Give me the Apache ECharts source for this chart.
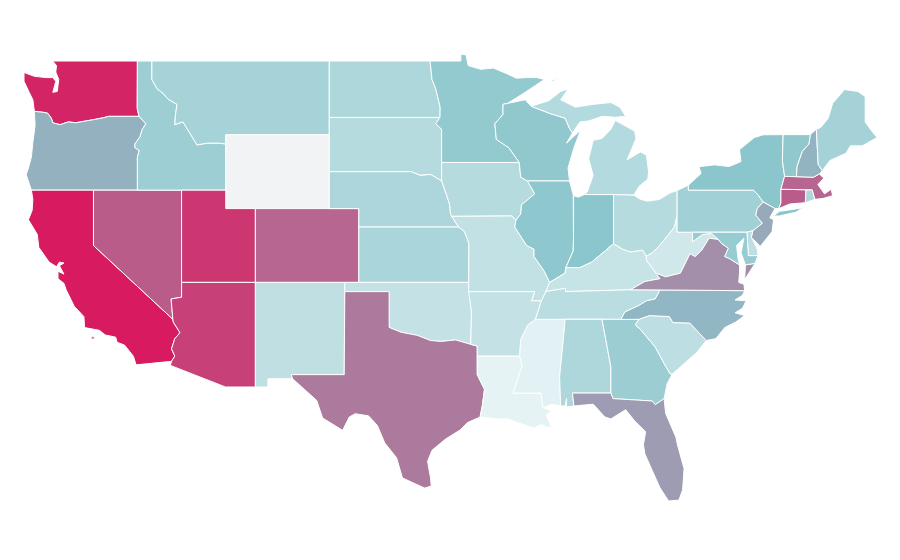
<!DOCTYPE html>
<html lang="en">

<head>
    <meta charset="utf-8" />
    <title>US states</title>
    <style>
        html, body { margin: 0; padding: 0; background: #fff; }
        #mapContainer { width: 900px; height: 560px; }
    </style>
    <script src="https://cdn.jsdelivr.net/npm/echarts@6/dist/echarts.min.js"></script>
</head>

<body>
    <div id="mapContainer"></div>
    <script>
        // values, Wyoming has no value
        var stateNames = ['WA','OR','CA','NV','ID','MT','WY','UT','AZ','CO','NM','ND','SD','NE','KS','OK','TX','MN','IA','MO','AR','LA','WI','IL','MS','MI','IN','KY','TN','AL','OH','WV','GA','FL','SC','NC','VA','PA','NY','NJ','DE','MD','CT','RI','MA','VT','NH','ME'];
        var stateValues = [97,56,100,81,40,35,null,92,89,78,22,31,27,32,33,19,72,45,27,20,19,1,47,48,3,28,49,18,25,31,27,13,41,62,23,54,66,38,49,58,23,43,81,31,78,47,55,36];
        var colorStops = ['#e8f4f5', '#8ac5cc', '#d81b60'];

        // shared borders, lon/lat
        var columbia = [[-124.0,46.27],[-123.4,46.22],[-123.1,46.17],[-122.85,45.9],[-122.75,45.65],[-122.25,45.55],[-121.7,45.7],[-121.2,45.65],[-120.6,45.74],[-120.0,45.82],[-119.3,45.93],[-118.98,46.0],[-116.92,46.0]];
        var snake = [[-116.92,46.0],[-116.46,45.6],[-116.7,45.3],[-116.85,44.9],[-117.2,44.5],[-117.2,44.3],[-116.9,44.15],[-117.03,43.8],[-117.03,42.0]];
        var bitterroot = [[-116.05,49.0],[-116.05,48.0],[-115.7,47.5],[-115.3,47.25],[-114.95,46.93],[-114.35,46.65],[-114.45,46.1],[-114.5,45.55],[-113.95,45.7],[-113.45,45.05],[-113.0,44.45],[-112.3,44.55],[-111.5,44.55],[-111.05,44.5]];
        var colorado = [[-114.72,32.72],[-114.5,33.0],[-114.72,33.4],[-114.5,33.95],[-114.15,34.27],[-114.6,34.85],[-114.63,35.0]];
        var redRiver = [[-100.0,34.56],[-99.2,34.3],[-98.1,34.13],[-97.2,33.85],[-96.5,33.8],[-95.5,33.88],[-94.48,33.64]];
        var sabine = [[-94.04,33.0],[-94.04,32.0],[-93.55,31.2],[-93.7,30.3],[-93.85,29.7]];
        var missouriN = [[-98.5,43.0],[-97.9,42.8],[-97.2,42.85],[-96.45,42.5]];
        var missouriE = [[-96.45,42.5],[-96.1,41.7],[-95.9,41.2],[-95.85,40.7],[-95.77,40.58]];
        var missouriS = [[-95.77,40.58],[-95.3,40.0],[-94.9,39.75],[-94.6,39.1]];
        var redN = [[-96.56,45.94],[-96.55,46.5],[-96.85,47.5],[-97.1,48.0],[-97.23,49.0]];
        var upperMiss = [[-92.75,44.75],[-91.9,44.3],[-91.2,43.5]];
        var stCroix = [[-92.3,46.65],[-92.3,46.1],[-92.85,45.6],[-92.75,44.75]];
        var missIA = [[-91.2,43.5],[-91.1,42.7],[-90.65,42.5]];
        var missIL = [[-90.65,42.5],[-90.15,41.8],[-91.05,41.2],[-91.1,40.7],[-91.42,40.38]];
        var missMO = [[-91.42,40.38],[-91.5,40.0],[-90.7,39.0],[-90.2,38.8],[-90.2,38.4],[-89.5,37.6],[-89.15,37.0]];
        var missTN = [[-89.4,36.5],[-89.7,36.0]];
        var missAR = [[-89.7,36.0],[-90.1,35.0],[-90.6,34.7],[-91.1,33.9],[-91.17,33.0]];
        var missLA = [[-91.17,33.0],[-91.0,32.5],[-91.6,31.0]];
        var ohioKY = [[-89.15,37.0],[-88.1,37.5],[-88.05,37.8]];
        var ohioIN = [[-88.05,37.8],[-87.1,37.8],[-86.3,38.1],[-85.4,38.7],[-84.82,39.1]];
        var ohioOH = [[-84.82,39.1],[-84.2,38.8],[-83.7,38.65],[-82.85,38.75],[-82.6,38.42]];
        var ohioWV = [[-82.6,38.42],[-82.2,38.6],[-81.7,39.0],[-80.7,40.0],[-80.52,40.63]];
        var wabash = [[-87.52,41.7],[-87.53,39.35],[-87.55,38.7],[-88.05,37.8]];
        var kyWV = [[-82.6,38.42],[-82.6,38.2],[-81.95,37.5]];
        var vaWV = [[-81.95,37.5],[-81.3,37.3],[-80.3,37.5],[-79.65,38.55],[-79.3,38.4],[-78.85,38.75],[-78.35,39.4],[-77.72,39.32]];
        var kyVA = [[-81.95,37.5],[-81.68,37.2],[-82.7,37.05],[-83.68,36.6]];
        var tnNC = [[-81.68,36.59],[-82.0,36.1],[-82.6,36.0],[-83.1,35.75],[-84.05,35.4],[-84.32,34.99]];
        var ncSC = [[-83.1,35.0],[-82.4,35.2],[-81.05,35.15],[-80.8,34.82],[-79.67,34.8],[-78.55,33.85]];
        var savannah = [[-83.1,35.0],[-83.35,34.7],[-83.0,34.45],[-82.0,33.5],[-81.4,32.6],[-81.0,32.05],[-80.85,32.03]];
        var gaCoast = [[-80.85,32.03],[-81.2,31.5],[-81.4,30.7]];
        var stMarys = [[-81.4,30.7],[-82.0,30.37],[-82.2,30.57],[-84.86,30.7],[-85.0,31.0]];
        var chattahoochee = [[-85.0,31.0],[-85.0,32.4],[-85.6,35.0]];
        var msAL = [[-88.2,35.0],[-88.1,34.9],[-88.47,31.9],[-88.4,30.3]];
        var delaware = [[-74.7,41.36],[-75.1,41.0],[-75.2,40.65],[-74.75,40.2],[-75.4,39.8]];
        var nyPA = [[-79.76,42.27],[-79.76,42.0],[-75.35,42.0],[-75.05,41.75],[-74.7,41.36]];
        var potomac = [[-76.3,37.95],[-77.0,38.3],[-77.3,38.4],[-77.05,38.85],[-77.5,39.1],[-77.72,39.32]];
        var mdWV = [[-77.72,39.32],[-78.2,39.65],[-78.8,39.6],[-79.48,39.2],[-79.48,39.72]];
        var vtNH = [[-71.5,45.01],[-71.6,44.5],[-72.05,44.1],[-72.4,43.3],[-72.45,42.73]];
        var nyVT = [[-73.25,42.75],[-73.4,43.6],[-73.35,45.01]];
        var nhMA = [[-72.45,42.73],[-71.3,42.7],[-70.9,42.88]];
        var nhME = [[-71.1,45.3],[-70.98,43.4],[-70.7,43.05]];
        var wiUP = [[-90.4,46.55],[-89.1,46.15],[-88.1,45.9],[-87.8,45.35],[-87.6,45.1]];

        function rev(a) { return a.slice().reverse(); }
        function ring() { return [].concat.apply([], arguments); }

        var stateShapes = {
            WA: [ring([[-117.03,49.0],[-117.04,46.42],[-116.92,46.0]], rev(columbia), [[-124.1,46.9],[-124.35,47.3],[-124.7,47.9],[-124.7,48.38],[-124.0,48.17],[-123.2,48.1],[-122.75,48.1],[-122.55,47.9],[-122.75,47.3],[-122.45,47.35],[-122.35,48.0],[-122.55,48.4],[-122.5,48.75],[-122.76,49.0]])],
            OR: [ring(columbia, snake.slice(1), [[-124.2,42.0],[-124.55,42.84],[-124.4,43.2],[-124.2,43.8],[-124.1,44.6],[-123.95,45.5]])],
            CA: [
                ring([[-120.0,42.0],[-124.2,42.0],[-124.1,41.5],[-124.15,40.9],[-124.4,40.4],[-123.8,39.6],[-123.7,38.9],[-123.0,38.1],[-122.5,37.85],[-122.3,38.1],[-122.0,38.05],[-122.3,37.9],[-122.0,37.45],[-122.4,37.6],[-122.4,37.2],[-122.0,36.95],[-121.85,36.6],[-121.3,35.7],[-120.65,35.15],[-120.6,34.55],[-119.6,34.4],[-119.2,34.15],[-118.5,34.03],[-118.4,33.75],[-117.9,33.6],[-117.3,33.0],[-117.12,32.53]], colorado, [[-120.0,39.0]]),
                [[-120.15,34.05],[-119.95,34.05],[-119.95,33.93],[-120.15,33.93]],
                [[-118.55,33.4],[-118.45,33.4],[-118.45,33.33]]
            ],
            NV: [ring([[-120.0,42.0],[-114.04,42.0],[-114.04,36.2],[-114.75,36.1],[-114.63,35.0],[-120.0,39.0]])],
            ID: [ring([[-117.03,49.0]], bitterroot, [[-111.05,42.0]], rev(snake), [[-117.04,46.42]])],
            MT: [ring(bitterroot, [[-111.05,45.0],[-104.05,45.0],[-104.05,49.0]])],
            WY: [[[-111.05,45.0],[-104.05,45.0],[-104.05,41.0],[-111.05,41.0]]],
            UT: [[[-114.04,42.0],[-111.05,42.0],[-111.05,41.0],[-109.05,41.0],[-109.05,37.0],[-114.04,37.0]]],
            AZ: [ring([[-114.04,37.0],[-109.05,37.0],[-109.05,31.33],[-111.07,31.33],[-114.8,32.5]], colorado, [[-114.75,36.1],[-114.04,36.2]])],
            CO: [[[-109.05,41.0],[-102.05,41.0],[-102.05,37.0],[-109.05,37.0]]],
            NM: [[[-109.05,37.0],[-103.0,37.0],[-103.04,32.0],[-106.62,32.0],[-106.53,31.78],[-108.2,31.78],[-108.2,31.33],[-109.05,31.33]]],
            ND: [ring([[-104.05,49.0]], rev(redN), [[-104.05,45.94]])],
            SD: [ring([[-104.05,45.94],[-96.56,45.94],[-96.85,45.6],[-96.45,45.3],[-96.45,43.5]], rev(missouriN), [[-104.05,43.0]])],
            NE: [ring([[-104.05,43.0]], missouriN, missouriE.slice(1), [[-95.3,40.0],[-102.05,40.0],[-102.05,41.0],[-104.05,41.0]])],
            KS: [ring([[-102.05,40.0]], missouriS.slice(1), [[-94.62,37.0],[-102.05,37.0]])],
            OK: [ring([[-103.0,37.0],[-94.62,37.0],[-94.43,35.4]], rev(redRiver), [[-100.0,36.5],[-103.0,36.5]])],
            TX: [ring([[-103.0,36.5],[-100.0,36.5]], redRiver, [[-94.04,33.55]], sabine, [[-94.7,29.4],[-95.2,29.0],[-96.2,28.5],[-97.1,27.9],[-97.4,27.3],[-97.2,26.4],[-97.15,25.96],[-97.6,25.85],[-99.1,26.4],[-99.5,27.5],[-100.3,28.3],[-100.8,29.25],[-101.4,29.77],[-102.3,29.88],[-102.7,29.7],[-103.15,28.98],[-104.5,29.65],[-104.9,30.6],[-106.53,31.78],[-106.62,32.0],[-103.04,32.0]])],
            MN: [ring(redN, [[-95.15,49.0],[-95.15,49.38],[-94.8,49.33],[-94.65,48.75],[-93.8,48.55],[-92.95,48.62],[-92.0,48.3],[-91.4,48.07],[-90.75,48.1],[-90.0,48.1],[-89.5,48.0],[-90.8,47.3],[-92.0,46.7]], stCroix, upperMiss.slice(1), [[-96.45,43.5],[-96.45,45.3],[-96.85,45.6]])],
            IA: [ring([[-96.45,43.5]], missIA, missIL.slice(1), [[-91.73,40.6]], rev(missouriE))],
            MO: [ring([[-95.77,40.58],[-91.73,40.6]], missMO, missTN, [[-90.37,36.0],[-90.15,36.5],[-94.62,36.5],[-94.62,37.0]], rev(missouriS))],
            AR: [ring([[-94.62,36.5],[-90.15,36.5],[-90.37,36.0]], missAR, [[-94.04,33.0],[-94.04,33.55],[-94.48,33.64],[-94.43,35.4]])],
            LA: [ring(missLA, [[-89.73,31.0],[-89.6,30.2],[-89.0,30.05],[-89.4,29.8],[-89.0,29.15],[-89.4,29.15],[-89.7,29.3],[-90.2,29.1],[-91.3,29.4],[-92.0,29.6],[-92.7,29.6]], rev(sabine))],
            WI: [ring([[-92.0,46.7],[-90.8,46.9]], wiUP, [[-88.0,44.55],[-87.05,45.25],[-87.5,44.3],[-87.9,43.2],[-87.8,42.5]], rev(missIA), rev(upperMiss).slice(1), rev(stCroix).slice(1))],
            IL: [ring([[-90.65,42.5],[-87.8,42.5],[-87.55,41.75]], wabash, rev(ohioKY).slice(1), rev(missMO).slice(1), rev(missIL).slice(1))],
            MS: [ring([[-90.1,35.0]], msAL, [[-89.0,30.4],[-89.6,30.2],[-89.73,31.0]], rev(missLA), [[-91.1,33.9],[-90.6,34.7]])],
            MI: [
                ring([[-86.8,41.76],[-84.82,41.76],[-83.45,41.73],[-83.1,42.2],[-82.5,42.6],[-82.45,43.0],[-82.6,43.9],[-83.0,44.07],[-83.9,43.65],[-83.3,44.8],[-83.4,45.2],[-84.7,45.78],[-85.0,45.3],[-85.6,44.8],[-86.2,44.7],[-86.5,43.7],[-86.2,42.8],[-86.6,41.9]]),
                ring(wiUP, [[-87.1,45.7],[-86.5,45.75],[-85.6,46.0],[-84.7,45.95],[-84.0,46.0],[-84.4,46.5],[-85.0,46.75],[-86.2,46.65],[-87.4,46.5],[-88.4,46.9],[-87.9,47.47],[-88.4,47.35],[-89.2,46.85]]),
                [[-89.2,47.87],[-88.5,48.15],[-88.9,47.9]]
            ],
            IN: [ring([[-87.52,41.7],[-87.2,41.62],[-86.8,41.76],[-84.82,41.76]], rev(ohioIN), rev(wabash).slice(1))],
            KY: [ring(ohioKY, ohioIN.slice(1), ohioOH.slice(1), kyWV.slice(1), kyVA.slice(1), [[-88.07,36.5],[-88.07,36.68],[-89.4,36.5]])],
            TN: [ring([[-90.1,35.0],[-88.2,35.0],[-85.6,35.0]], rev(tnNC), [[-83.68,36.6],[-88.07,36.5],[-88.07,36.68],[-89.4,36.5],[-89.7,36.0]])],
            AL: [ring(msAL, [[-88.1,30.3],[-88.0,30.7],[-88.0,30.25],[-87.5,30.3],[-87.6,31.0]], chattahoochee)],
            OH: [ring([[-84.82,41.76],[-83.45,41.73],[-83.0,41.5],[-82.5,41.4],[-81.7,41.5],[-81.0,41.85],[-80.52,41.98]], rev(ohioWV), rev(ohioOH).slice(1))],
            WV: [ring(kyWV, vaWV.slice(1), mdWV.slice(1), [[-80.52,39.72]], rev(ohioWV))],
            GA: [ring([[-85.6,35.0]], savannah, gaCoast.slice(1), stMarys.slice(1), chattahoochee.slice(1))],
            FL: [ring(rev(stMarys), [[-81.3,29.9],[-80.6,28.6],[-80.5,28.2],[-80.05,26.9],[-80.15,25.75],[-80.4,25.2],[-81.1,25.15],[-81.7,25.9],[-82.2,26.8],[-82.7,27.7],[-82.8,28.2],[-82.65,28.9],[-83.4,29.5],[-84.0,30.1],[-85.0,29.6],[-85.4,29.7],[-86.2,30.4],[-87.5,30.3],[-87.6,31.0]])],
            SC: [ring(ncSC, [[-79.2,33.2],[-79.9,32.7]], rev(savannah))],
            NC: [ring(rev(tnNC), [[-75.95,36.55],[-76.1,36.3],[-76.6,36.05],[-75.85,36.0],[-76.1,35.6],[-76.6,35.35],[-75.95,35.2],[-76.55,34.85],[-77.3,34.55],[-77.9,33.95]], rev(ncSC))],
            VA: [
                ring([[-83.68,36.6],[-81.68,36.59],[-75.95,36.55],[-76.0,36.9],[-76.35,37.0],[-76.3,37.55]], potomac, rev(vaWV).slice(1), kyVA.slice(1)),
                [[-75.9,37.95],[-75.25,38.03],[-75.95,37.15]]
            ],
            PA: [ring(nyPA, delaware.slice(1), [[-75.8,39.72],[-80.52,39.72],[-80.52,41.98]])],
            NY: [
                ring(nyPA, [[-73.9,41.0],[-73.65,41.0],[-73.5,41.3],[-73.5,42.05]], nyVT, [[-74.7,45.0],[-75.3,44.85],[-76.3,44.2],[-76.2,43.55],[-77.0,43.28],[-78.0,43.37],[-79.05,43.27],[-78.9,42.9]]),
                [[-74.0,40.6],[-73.6,40.85],[-72.6,40.97],[-72.0,41.05],[-72.5,40.8],[-73.6,40.6]]
            ],
            NJ: [ring(delaware, [[-75.5,39.45],[-74.9,38.95],[-74.1,39.75],[-74.0,40.4],[-74.25,40.5],[-73.9,41.0]])],
            DE: [[[-75.8,39.72],[-75.4,39.8],[-75.5,39.45],[-75.1,38.8],[-75.05,38.45],[-75.7,38.45]]],
            MD: [ring([[-79.48,39.72],[-75.8,39.72],[-75.7,38.45],[-75.05,38.45],[-75.25,38.03],[-75.9,37.95],[-76.2,38.6],[-76.0,39.4],[-76.5,39.0],[-76.4,38.3]], potomac, mdWV.slice(1))],
            CT: [[[-73.65,41.0],[-73.5,41.3],[-73.5,42.05],[-71.8,42.02],[-71.85,41.32],[-72.9,41.25]]],
            RI: [[[-71.8,42.02],[-71.38,42.02],[-71.2,41.5],[-71.85,41.32]]],
            MA: [ring([[-73.5,42.05],[-73.25,42.75]], nhMA, [[-70.6,42.65],[-71.0,42.3],[-70.55,41.8],[-70.1,42.05],[-70.0,41.7],[-70.65,41.55],[-71.2,41.5],[-71.38,42.02],[-71.8,42.02]])],
            VT: [ring(nyVT.slice(2), vtNH, [[-73.25,42.75],[-73.4,43.6]])],
            NH: [ring(vtNH, nhMA.slice(1), rev(nhME))],
            ME: [ring(nhME, [[-70.2,43.6],[-69.1,44.0],[-68.8,44.4],[-68.0,44.4],[-67.0,44.85],[-67.45,45.3],[-67.8,45.7],[-67.8,47.07],[-68.3,47.35],[-69.2,47.45],[-70.0,46.7],[-70.3,45.9],[-70.8,45.4]])]
        };

        var geoJson = {
            type: 'FeatureCollection',
            features: stateNames.map(function (name) {
                return {
                    type: 'Feature',
                    properties: { name: name },
                    geometry: {
                        type: 'MultiPolygon',
                        coordinates: stateShapes[name].map(function (r) { return [r]; })
                    }
                };
            })
        };

        var dom = document.getElementById('mapContainer');
        var myChart = echarts.init(dom);
        echarts.registerMap('usa', geoJson);

        var option = {
            animation: false,
            backgroundColor: '#fff',
            visualMap: {
                show: false,
                min: 0,
                max: 100,
                inRange: { color: colorStops }
            },
            series: [{
                type: 'map',
                map: 'usa',
                aspectScale: 0.8,
                left: 24,
                top: 54,
                width: 853,
                height: 447,
                silent: true,
                label: { show: false },
                itemStyle: { areaColor: '#f2f3f5', borderColor: '#fff', borderWidth: 1 },
                data: stateNames.map(function (name, i) {
                    return { name: name, value: stateValues[i] };
                })
            }]
        };
        myChart.setOption(option);
    </script>
</body>

</html>
